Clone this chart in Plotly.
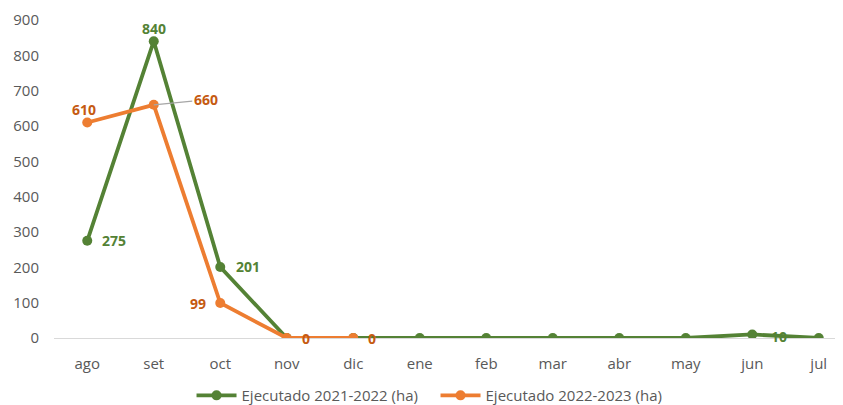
import plotly.graph_objects as go

months = ["ago", "set", "oct", "nov", "dic", "ene", "feb", "mar", "abr", "may", "jun", "jul"]
ejec_2122 = [275, 840, 201, 0, 0, 0, 0, 0, 0, 0, 10, 0]
ejec_2223 = [610, 660, 99, 0, 0]
name_2122 = "Ejecutado 2021-2022 (ha)"
name_2223 = "Ejecutado 2022-2023 (ha)"

# which points get a data label, and offset (px) for each
labels_2122 = {0: (27, 0), 1: (0, -13), 2: (28, 0), 10: (27, 2)}
labels_2223 = {0: (-3, -13), 2: (-22, 0), 3: (19, 0), 4: (19, 0)}

GREEN = "#548235"
ORANGE = "#ED7D31"
GREEN_TXT = "#548235"
ORANGE_TXT = "#C55A11"
FONT = "Open Sans"

fig = go.Figure()
fig.add_trace(go.Scatter(x=months, y=ejec_2122, name=name_2122, mode="lines+markers",
                         line=dict(color=GREEN, width=3.8), marker=dict(size=10, color=GREEN)))
fig.add_trace(go.Scatter(x=months[:len(ejec_2223)], y=ejec_2223, name=name_2223, mode="lines+markers",
                         line=dict(color=ORANGE, width=3.8), marker=dict(size=10, color=ORANGE)))

for i, (dx, dy) in labels_2122.items():
    fig.add_annotation(x=months[i], y=ejec_2122[i], text=f"<b>{ejec_2122[i]}</b>", showarrow=False,
                       xshift=dx, yshift=-dy, font=dict(color=GREEN_TXT, size=14, family=FONT))
for i, (dx, dy) in labels_2223.items():
    fig.add_annotation(x=months[i], y=ejec_2223[i], text=f"<b>{ejec_2223[i]}</b>", showarrow=False,
                       xshift=dx, yshift=-dy, font=dict(color=ORANGE_TXT, size=14, family=FONT))
# 660 label with leader line
fig.add_annotation(x=months[1], y=ejec_2223[1], text=f"<b>{ejec_2223[1]}</b>", showarrow=True,
                   arrowhead=0, arrowwidth=1.2, arrowcolor="#A6A6A6", ax=52, ay=-5,
                   standoff=0, font=dict(color=ORANGE_TXT, size=14, family=FONT))

fig.update_layout(
    width=843, height=405,
    margin=dict(l=46, r=0, t=12, b=75),
    plot_bgcolor="white", paper_bgcolor="white",
    font=dict(family=FONT, color="#595959", size=15),
    showlegend=True,
    legend=dict(orientation="h", x=0.4787, xanchor="center", y=-0.233, yanchor="bottom",
                font=dict(size=15, color="#595959", family=FONT), itemwidth=40,
                entrywidth=189, traceorder="normal"),
    xaxis=dict(range=[-0.5, 11.485], showgrid=False, showline=False, zeroline=False,
               tickfont=dict(size=15, color="#595959"), ticks="", automargin=False,
               ticklabelstandoff=15),
    yaxis=dict(range=[0, 900], dtick=100, showgrid=False, zeroline=True, zerolinecolor="#D9D9D9",
               zerolinewidth=1, showline=False, tickfont=dict(size=15, color="#595959"),
               ticklabelstandoff=14, automargin=False),
)
fig.write_html("out.html")
